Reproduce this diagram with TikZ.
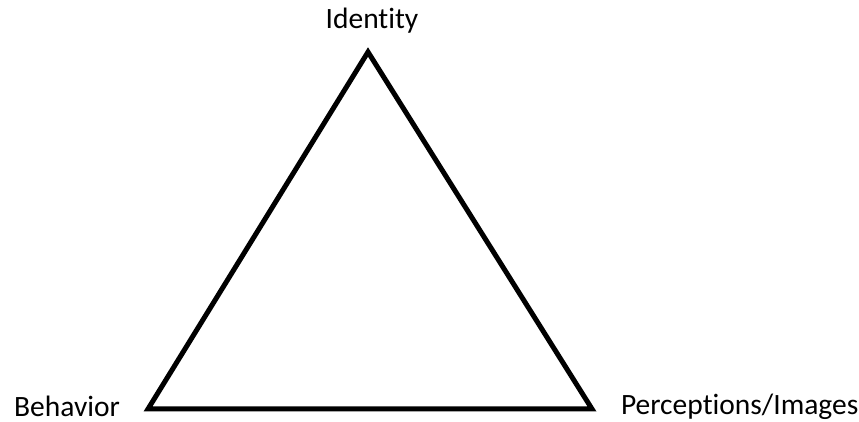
\documentclass[tikz,border=0pt]{standalone}
\usepackage{fontspec}
\setmainfont{Carlito}[Ligatures=NoCommon]
\usetikzlibrary{positioning}
\tikzset{every picture/.style={line width=5pt}}
\tikzset{corner/.style={inner sep=0pt, minimum size=0pt},
         lbl/.style={inner sep=0pt, font=\fontsize{29.5}{35}\selectfont}}

\begin{document}
\begin{tikzpicture}[x=1pt,y=1pt]
    \useasboundingbox (0,0) rectangle (859,422);
    \node[corner] (identity) at (368,370) {};
    \node[corner] (behavior) at (148,13) {};
    \node[corner] (perception) at (592,13) {};
    \node[lbl] (lid) at (372,401) {Identity};
    \node[lbl, left=23pt of behavior, yshift=3pt] (lbe) {Behavior};
    \node[lbl, right=24pt of perception, yshift=2pt] (lpe) {Perceptions/Images};
    \draw[line join=miter] (identity.center) -- (behavior.center) -- (perception.center) -- cycle;
\end{tikzpicture}
\end{document}
